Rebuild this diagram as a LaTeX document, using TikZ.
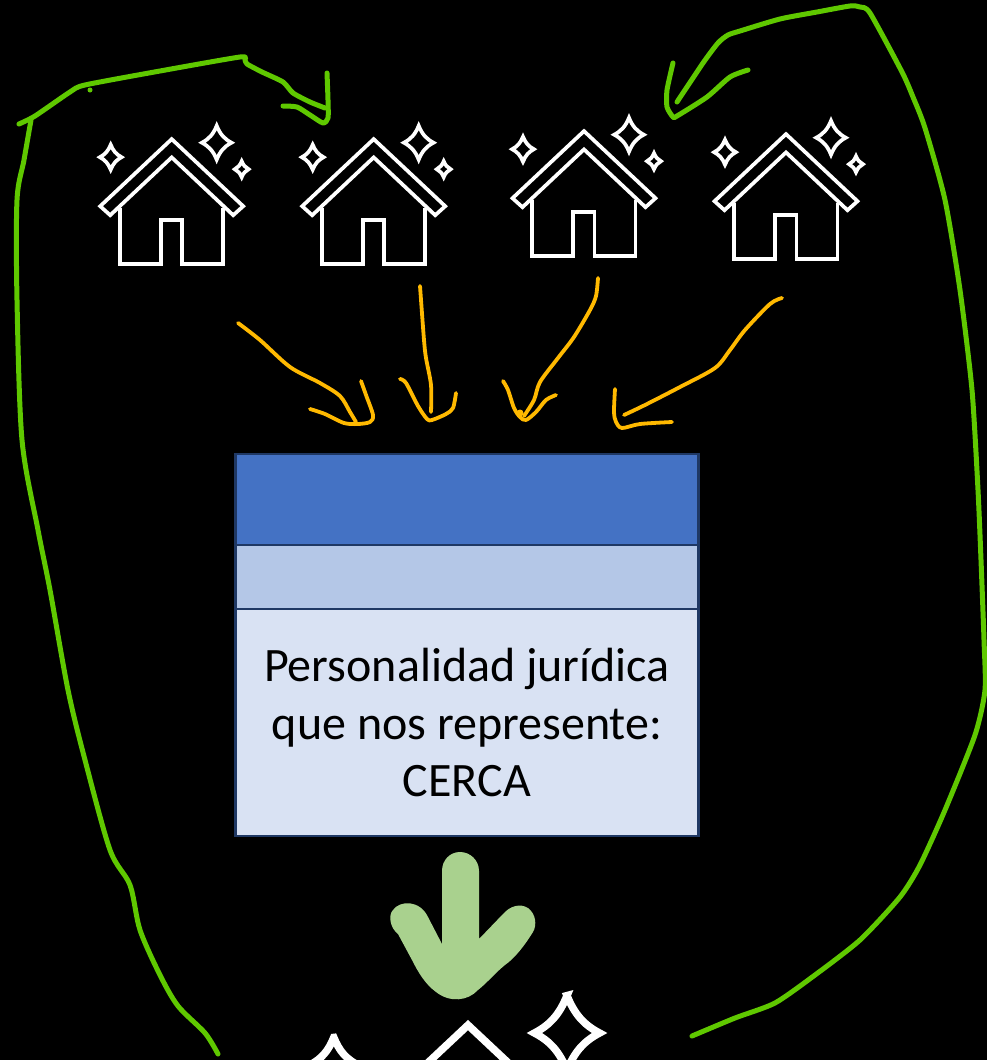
\documentclass[tikz,border=0pt]{standalone}
\usepackage{fontspec}
\setmainfont{Carlito}
\definecolor{pen}{HTML}{5FC800}
\definecolor{amberpen}{HTML}{FFB900}
\definecolor{sage}{HTML}{A9D18E}
\definecolor{hdr}{HTML}{4472C4}
\definecolor{mid}{HTML}{B4C7E7}
\definecolor{low}{HTML}{D9E2F3}
\definecolor{edge}{HTML}{1F3864}
\tikzset{
  greenink/.style={draw=pen,line width=5pt,line cap=round,line join=round},
  amberink/.style={draw=amberpen,line width=3.8pt,line cap=round,line join=round},
  tablecell/.style={draw=edge,line width=2.5pt,minimum width=463pt,inner sep=0pt,outer sep=0pt,anchor=north west,text=black},
  outline/.style={draw=white,line join=miter,miter limit=25,fill=none}
}
\newcommand{\sparkle}[3]{% cx cy half-height
  \draw[outline] (#1,#2-#3) .. controls (#1+0.2*#3,#2-0.5*#3) and (#1+0.45*#3,#2-0.22*#3) .. (#1+0.87*#3,#2)
   .. controls (#1+0.45*#3,#2+0.22*#3) and (#1+0.2*#3,#2+0.5*#3) .. (#1,#2+#3)
   .. controls (#1-0.2*#3,#2+0.5*#3) and (#1-0.45*#3,#2+0.22*#3) .. (#1-0.87*#3,#2)
   .. controls (#1-0.45*#3,#2-0.22*#3) and (#1-0.2*#3,#2-0.5*#3) .. cycle;
}
\newcommand{\housegroup}[4]{% x y scale linewidth : apex position
\begin{scope}[shift={(#1,#2)},scale=#3,line width=#4]
  \draw[outline] (0,1.4) -- (71.5,68.5) -- (61.5,77.5) -- (0,19.7) -- (-61.5,77.5) -- (-71.5,68.5) -- cycle;
  \draw[outline] (-51.7,70) -- (-51.7,126) -- (-11,126) -- (-11,82.3) -- (10.6,82.3) -- (10.6,126) -- (51.6,126) -- (51.6,70);
  \sparkle{-61}{19.5}{12.5}
  \sparkle{45}{5}{17}
  \sparkle{70}{31.5}{8}
\end{scope}
}
\begin{document}
\begin{tikzpicture}[x=1pt,y=-1pt]
\useasboundingbox[fill=black] (0,0) rectangle (987,1060);
\begin{scope}
\clip (0,0) rectangle (987,1060);
\housegroup{171.7}{137.7}{1}{3.7pt}
\housegroup{373.7}{137.7}{1}{3.7pt}
\housegroup{584}{129.7}{1}{3.7pt}
\housegroup{786}{132.7}{1}{3.7pt}
\housegroup{468}{1022}{2.2}{7.5pt}
\end{scope}
% table
\node[tablecell,fill=hdr,minimum height=91pt] (head) at (235.5,454) {};
\node[tablecell,fill=mid,minimum height=64pt] (band) at (235.5,545) {};
\node[tablecell,fill=low,minimum height=227pt,align=center,font=\fontsize{48}{57.5}\selectfont] (body) at (235.5,609) {Personalidad jurídica\\que nos represente:\\CERCA};
% fat arrow
\fill[sage] (442,871) .. controls (442,860) and (450,852) .. (460,852)
  .. controls (470,852) and (479,860) .. (479,871) -- (479,939)
  -- (503,914) .. controls (510,906) and (520,903) .. (528,908)
  .. controls (536,914) and (537,925) .. (533,932)
  .. controls (525,945) and (515,958) .. (505,965)
  .. controls (495,973) and (487,983) .. (478,990)
  .. controls (468,1001) and (450,1003) .. (436,992)
  .. controls (425,984) and (418,972) .. (412,960)
  -- (398,934) .. controls (390,928) and (388,915) .. (393,910)
  .. controls (400,900) and (420,900) .. (428,917)
  -- (442,944) -- cycle;
% green strokes
\draw[greenink] plot[smooth,tension=0.5] coordinates {(218,1054) (205,1033) (178,1006) (160,975) (140,930) (130,885) (110,850) (85,760) (68,690) (50,590) (38,530) (22,440) (17,300) (17,200) (24,160) (31,120)};
\draw[greenink] plot[smooth,tension=0.4] coordinates {(19,124) (35,116) (70,92) (85,85) (160,71) (240,57) (245,60) (247,64) (262,72) (283,82) (293,93) (310,102) (325,108)};
\draw[greenink] plot[smooth,tension=0.4] coordinates {(327,73) (328,100) (328,118) (323,123) (310,115) (297,107) (283,106)};
\fill[pen] (90,90) circle (2.5);
\draw[greenink] plot[smooth,tension=0.4] coordinates {(692,1036) (735,1018) (775,1003) (815,975) (860,940) (900,897) (920,865) (945,810) (975,735) (985,690) (984,640) (981,560) (978,490) (972,390) (960,290) (945,200) (925,128) (913,97) (902,72) (870,13) (860,7) (850,6) (817,12) (780,19) (740,31) (728,35) (718,43) (703,63) (677,102)};
\draw[greenink] plot[smooth,tension=0.4] coordinates {(673,63) (667,90) (667,107) (673,117) (677,116) (707,97) (730,77) (748,70)};
% amber arrows
\draw[amberink] plot[smooth,tension=0.5] coordinates {(238,323) (260,340) (290,367) (320,383) (340,396) (350,412) (356,422)};
\draw[amberink] plot[smooth,tension=0.5] coordinates {(310,409) (325,414) (344,423) (358,424) (370,422) (373,415) (366,395) (361,381)};
\draw[amberink] plot[smooth,tension=0.5] coordinates {(420,286) (424,340) (426,358) (431,385) (431,412)};
\draw[amberink] plot[smooth,tension=0.5] coordinates {(400,379) (406,383) (418,406) (427,419) (432,420) (446,414) (453,408) (456,393)};
\draw[amberink] plot[smooth,tension=0.5] coordinates {(598,278) (596,296) (590,310) (574,337) (558,358) (540,382) (534,400) (524,416)};
\draw[amberink] plot[smooth,tension=0.5] coordinates {(503,381) (508,390) (514,408) (520,417) (526,420) (536,412) (546,400) (556,395)};
\fill[amberpen] (520,413) circle (3.5);
\draw[amberink] plot[smooth,tension=0.5] coordinates {(782,298) (770,304) (745,330) (730,350) (715,368) (680,387) (645,405) (624,415)};
\draw[amberink] plot[smooth,tension=0.5] coordinates {(615,389) (614,412) (616,422) (622,428) (640,424) (672,422)};
\end{tikzpicture}
\end{document}
